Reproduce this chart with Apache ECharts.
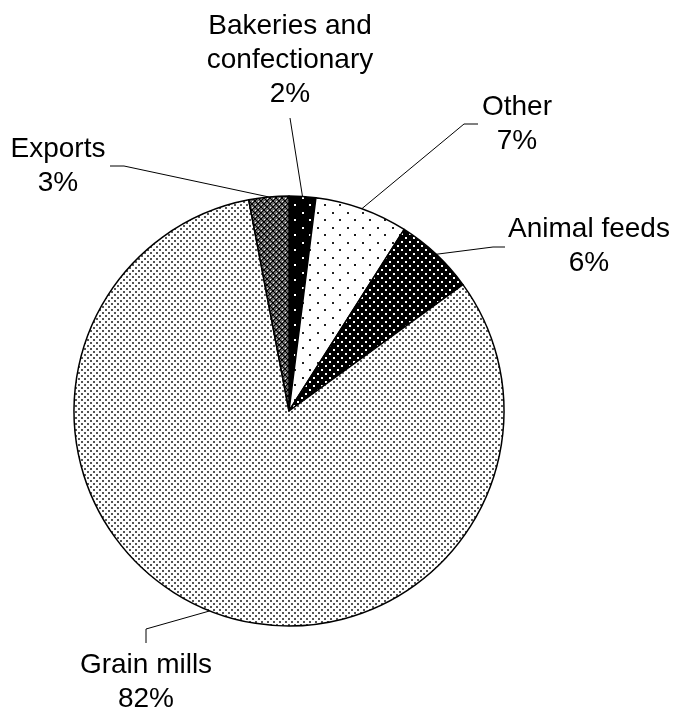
<!DOCTYPE html>
<html>
<head>
<meta charset="utf-8">
<script src="https://cdn.jsdelivr.net/npm/echarts@6/dist/echarts.min.js"></script>
<style>
html,body{margin:0;padding:0;background:#fff;}
#chart{width:675px;height:711px;}
</style>
</head>
<body>
<div id="chart"></div>
<script>
// ---- data ----
var categories = ['Bakeries and confectionary', 'Other', 'Animal feeds', 'Grain mills', 'Exports'];
var shares = [2, 7, 6, 82, 3];

// ---- label layout (positions only) ----
var labelPos = [
  {x: 290, y: 9,   elbow: [290, 118], end: [290, 118]},
  {x: 517, y: 90,  elbow: [464, 124], end: [478, 124]},
  {x: 589, y: 212, elbow: [493, 247], end: [505, 247]},
  {x: 146, y: 648, elbow: [146, 629], end: [146, 643]},
  {x: 58,  y: 132, elbow: [124, 166], end: [110, 166]}
];

function makeTile(w, h, bg, dots, dotColor, ds) {
  var c = document.createElement('canvas');
  c.width = w; c.height = h;
  var g = c.getContext('2d');
  g.fillStyle = bg; g.fillRect(0, 0, w, h);
  g.fillStyle = dotColor;
  dots.forEach(function (d) { g.fillRect(d[0], d[1], ds, ds); });
  return c;
}
function exportsTile() {
  var c = document.createElement('canvas');
  c.width = 6; c.height = 6;
  var g = c.getContext('2d');
  g.fillStyle = '#6a6a6a'; g.fillRect(0, 0, 6, 6);
  g.fillStyle = '#000';
  for (var i = 0; i < 6; i++) { g.fillRect(i, i, 1, 1); g.fillRect(5 - i, i, 1, 1); }
  g.fillStyle = '#fff';
  g.fillRect(0, 3, 1, 1); g.fillRect(3, 0, 1, 1);
  return c;
}
var patterns = [
  makeTile(15, 15, '#000', [[2, 2], [9, 9]], '#fff', 2),
  makeTile(15, 15, '#fff', [[2, 2], [9, 9]], '#222', 2),
  makeTile(8, 8, '#000', [[1, 1], [5, 5]], '#fff', 2),
  makeTile(6, 6, '#fff', [[0, 0], [3, 3]], '#555', 2),
  exportsTile()
];

var chart = echarts.init(document.getElementById('chart'), null, {renderer: 'canvas'});
chart.setOption({
  backgroundColor: '#fff',
  animation: false,
  series: [{
    type: 'pie',
    center: [289, 411],
    radius: 215,
    startAngle: 90,
    clockwise: true,
    avoidLabelOverlap: false,
    data: categories.map(function (n, i) {
      return {name: n, value: shares[i], itemStyle: {color: {image: patterns[i], repeat: 'repeat'}}};
    }),
    itemStyle: {borderColor: '#000', borderWidth: 1.5},
    emphasis: {disabled: true},
    label: {
      show: true,
      position: 'outside',
      formatter: function (p) { return p.name.replace('and ', 'and\n') + '\n' + p.value + '%'; },
      fontFamily: 'Liberation Sans, Arial, sans-serif',
      fontSize: 28,
      lineHeight: 34,
      color: '#000',
      align: 'center'
    },
    labelLine: {show: true, length: 10, length2: 10, lineStyle: {color: '#000', width: 1}},
    labelLayout: function (params) {
      var L = labelPos[params.dataIndex];
      var pts = params.labelLinePoints;
      var start = pts ? pts[0] : L.elbow;
      return {
        x: L.x, y: L.y, align: 'center', verticalAlign: 'top',
        labelLinePoints: [start, L.elbow, L.end]
      };
    }
  }]
});
</script>
</body>
</html>
